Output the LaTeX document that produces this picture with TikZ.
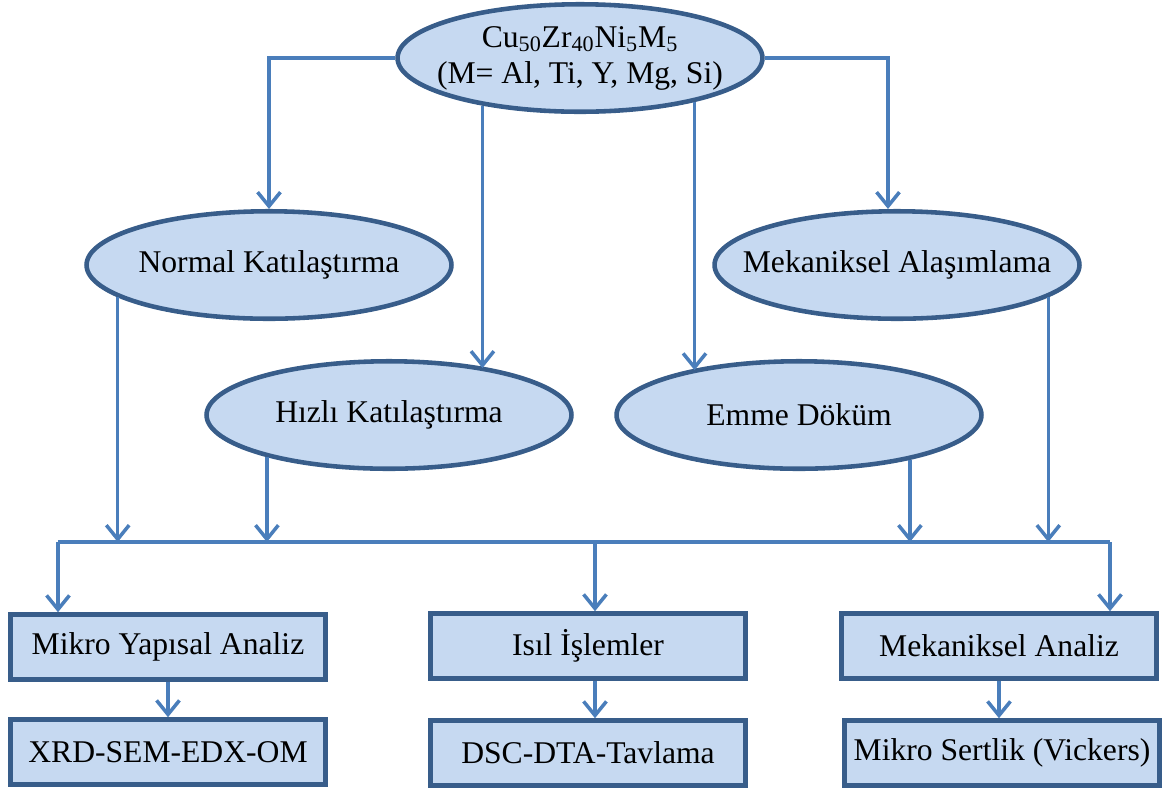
\documentclass[tikz,border=0pt]{standalone}
\usepackage{fontspec}
\setmainfont{Liberation Serif}
\usetikzlibrary{shapes.geometric,arrows.meta}
\definecolor{acikmavi}{HTML}{C6D9F1}
\definecolor{kenar}{HTML}{385D8A}
\definecolor{okmavi}{HTML}{4A7EBB}
\newcommand{\ortayaz}[1]{\makebox[3cm]{#1}}

\begin{document}
\begin{tikzpicture}[x=0.02cm,y=-0.02cm,
	every node/.style={font=\fontsize{18}{20.5}\selectfont},
	elips/.style={ellipse,draw=kenar,fill=acikmavi,line width=2.6pt,minimum width=7.3cm,minimum height=2.15cm,inner sep=0pt,align=center},
	kutu/.style={rectangle,draw=kenar,fill=acikmavi,line width=2.6pt,minimum width=6.3cm,minimum height=1.3cm,inner sep=0pt},
	ok/.style={draw=okmavi,line width=2pt,-{Straight Barb[length=8pt,width=13pt]}},
	hat/.style={draw=okmavi,line width=2pt}]
			\useasboundingbox (0,0) rectangle (1166,789);
			\node[elips] (alasim) at (580,58) {\ortayaz{Cu\textsubscript{50}Zr\textsubscript{40}Ni\textsubscript{5}M\textsubscript{5}}\\\ortayaz{(M= Al, Ti, Y, Mg, Si)}};
			\node[elips] (normal) at (269,265) {\ortayaz{Normal Katılaştırma}};
			\node[elips] (mekal) at (897,265) {\ortayaz{Mekaniksel Alaşımlama}};
			\node[elips] (hizli) at (389,415) {\ortayaz{Hızlı Katılaştırma}};
			\node[elips] (emme) at (799,415) {\ortayaz{Emme Döküm}};
			\node[kutu] (mya) at (168,647) {Mikro Yapısal Analiz};
			\node[kutu] (isil) at (588,646) {Isıl İşlemler};
			\node[kutu] (mka) at (999,646) {Mekaniksel Analiz};
			\node[kutu] (xrd) at (168,752) {XRD-SEM-EDX-OM};
			\node[kutu] (dsc) at (588,753) {DSC-DTA-Tavlama};
			\node[kutu] (msv) at (1002,753) {Mikro Sertlik (Vickers)};
			\coordinate (sol) at (58,542);
			\coordinate (orta) at (595,542);
			\coordinate (sag) at (1110,542);
			\draw[ok] (alasim.west) -| (normal.north);
			\draw[ok] (alasim.east) -| ([xshift=-0.18cm]mekal.north);
			\draw[ok] (alasim.206) -- (alasim.206 |- hizli.25);
			\draw[ok] (alasim.339) -- (alasim.339 |- emme.158);
			\draw[ok] (normal.192) -- (normal.192 |- sol);
			\draw[ok] (hizli.199) -- (hizli.199 |- sol);
			\draw[ok] (emme.338) -- (emme.338 |- sol);
			\draw[ok] (mekal.348) -- (mekal.348 |- sol);
			\draw[hat] (sol) -- (sag);
			\draw[ok] (sol) -- (sol |- mya.north);
			\draw[ok] (orta) -- (orta |- isil.north);
			\draw[ok] (sag) -- (sag |- mka.north);
			\draw[ok] (mya.south) -- (mya.south |- xrd.north);
			\draw[ok] (orta |- isil.south) -- (orta |- dsc.north);
			\draw[ok] (mka.south) -- (mka.south |- msv.north);
		\end{tikzpicture}
\end{document}
